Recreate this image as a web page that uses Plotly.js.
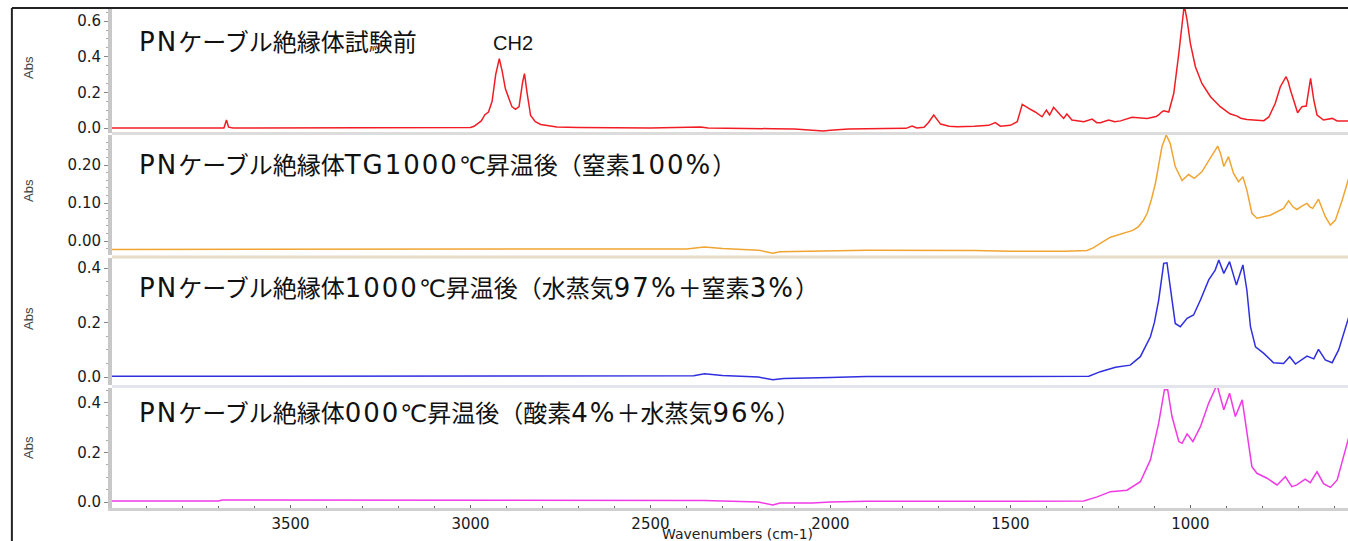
<!DOCTYPE html>
<html>
<head>
<meta charset="utf-8">
<script src="https://cdn.plot.ly/plotly-3.0.1.min.js"></script>
<style>html,body{margin:0;padding:0;background:#fff;}#chart{width:1348px;height:541px;}</style>
</head>
<body>
<div id="chart"></div>
<script>
// Panel labels
const panelLabels = [
  "PNケーブル絶縁体試験前",
  "PNケーブル絶縁体TG1000℃昇温後（窒素100%）",
  "PNケーブル絶縁体1000℃昇温後（水蒸気97%＋窒素3%）",
  "PNケーブル絶縁体000℃昇温後（酸素4%＋水蒸気96%）"
];
const peakLabel = "CH2";
const yTitle = "Abs";
const xTitle = "Wavenumbers (cm-1)";
const xTickVals = [3500, 3000, 2500, 2000, 1500, 1000];

// Series 1: before test (red)
const wnRed = [4000,3850,3810,3760,3685,3678,3672,3660,3400,3100,3000,2990,2970,2960,2950,2940,2930,2920,2912,2903,2895,2885,2875,2865,2855,2850,2843,2833,2820,2805,2760,2700,2500,2361,2340,2250,2160,2100,2040,2020,2000,1950,1850,1790,1773,1760,1740,1728,1713,1700,1694,1670,1648,1600,1560,1542,1528,1500,1481,1467,1458,1449,1431,1412,1400,1391,1380,1370,1361,1352,1343,1329,1296,1273,1260,1250,1227,1210,1194,1162,1140,1120,1095,1088,1080,1074,1060,1046,1032,1023,1017,1009,1000,986,968,944,917,890,880,870,860,843,796,782,764,750,734,728,722,713,702,690,678,666,657,648,630,606,592,560];
const absRed = [0.0,0.0,-0.004,-0.004,0.0,0.045,0.005,0.0,0.0,0.0,0.003,0.01,0.04,0.075,0.09,0.15,0.3,0.39,0.32,0.22,0.17,0.12,0.105,0.12,0.26,0.305,0.2,0.07,0.035,0.02,0.006,0.003,0.0,0.006,0.0,-0.004,-0.004,-0.006,-0.012,-0.017,-0.012,-0.006,-0.003,-0.002,0.011,0.0,0.004,0.03,0.073,0.04,0.022,0.01,0.007,0.01,0.015,0.03,0.01,0.015,0.035,0.133,0.12,0.11,0.09,0.063,0.1,0.073,0.116,0.09,0.073,0.054,0.079,0.045,0.035,0.05,0.03,0.03,0.045,0.035,0.04,0.06,0.055,0.054,0.065,0.073,0.09,0.097,0.09,0.195,0.42,0.59,0.69,0.606,0.475,0.344,0.25,0.176,0.12,0.08,0.073,0.067,0.055,0.048,0.041,0.062,0.139,0.232,0.288,0.26,0.213,0.157,0.086,0.12,0.123,0.279,0.157,0.073,0.045,0.054,0.04,0.04];

// Series 2: TG 1000C, N2 100% (orange)
const wnOrange = [4000,3800,3700,3400,3000,2600,2400,2350,2300,2200,2160,2140,2050,1900,1600,1500,1350,1287,1270,1259,1240,1222,1200,1176,1160,1144,1130,1120,1108,1097,1088,1079,1067,1056,1042,1023,1005,989,968,944,924,916,907,894,880,866,854,843,829,815,778,741,727,715,704,690,676,668,660,644,635,625,611,597,578,560];
const absOrange = [-0.022,-0.022,-0.021,-0.021,-0.022,-0.022,-0.021,-0.016,-0.02,-0.024,-0.032,-0.028,-0.026,-0.024,-0.025,-0.027,-0.027,-0.025,-0.018,-0.011,0.0,0.01,0.016,0.022,0.028,0.038,0.055,0.073,0.11,0.152,0.2,0.248,0.279,0.257,0.196,0.159,0.175,0.165,0.182,0.218,0.25,0.23,0.196,0.222,0.178,0.156,0.169,0.134,0.073,0.06,0.068,0.086,0.106,0.09,0.083,0.092,0.099,0.09,0.086,0.11,0.09,0.064,0.042,0.055,0.108,0.165];

// Series 3: 1000C, steam 97% + N2 3% (blue)
const wnBlue = [4000,3000,2500,2380,2350,2300,2200,2160,2130,2050,2000,1900,1600,1282,1250,1208,1167,1139,1111,1100,1088,1074,1065,1056,1042,1028,1009,991,972,949,931,921,907,891,872,854,843,833,819,796,769,741,724,708,676,657,644,625,606,588,560];
const absBlue = [0.003,0.003,0.003,0.005,0.012,0.006,0.0,-0.01,-0.005,-0.004,-0.001,0.002,0.003,0.003,0.02,0.036,0.044,0.075,0.148,0.2,0.283,0.418,0.42,0.332,0.197,0.185,0.216,0.228,0.283,0.357,0.393,0.43,0.381,0.424,0.338,0.412,0.32,0.185,0.111,0.087,0.053,0.05,0.075,0.048,0.077,0.067,0.102,0.063,0.053,0.1,0.22];

// Series 4: O2 4% + steam 96% (magenta)
const wnMagenta = [4000,3700,3690,3500,3000,2600,2350,2200,2160,2140,2050,2000,1900,1296,1259,1222,1176,1139,1111,1088,1072,1063,1051,1032,1023,1009,993,972,949,926,907,891,875,856,843,829,815,787,759,736,718,704,681,667,648,630,611,592,560];
const absMagenta = [0.004,0.004,0.008,0.008,0.006,0.005,0.006,0.0,-0.012,-0.004,-0.004,0.0,0.003,0.004,0.021,0.042,0.048,0.082,0.17,0.318,0.453,0.453,0.345,0.244,0.237,0.275,0.244,0.304,0.399,0.473,0.372,0.439,0.345,0.412,0.291,0.143,0.116,0.096,0.069,0.102,0.062,0.069,0.092,0.078,0.122,0.074,0.059,0.089,0.26];

const colors = ['#f21d24', '#f0a532', '#2f2fe0', '#f03ae6'];
const series = [[wnRed, absRed], [wnOrange, absOrange], [wnBlue, absBlue], [wnMagenta, absMagenta]];
const yaxNames = ['y', 'y2', 'y3', 'y4'];

const traces = series.map((s, i) => ({
  x: s[0], y: s[1], type: 'scatter', mode: 'lines',
  line: {color: colors[i], width: 1.5},
  xaxis: 'x', yaxis: yaxNames[i], hoverinfo: 'skip'
}));

const tickFont = {family: 'DejaVu Sans', size: 15, color: '#1a1a1a'};
function yax(domain, range, dtick, fmt) {
  return {
    domain: domain, range: range, dtick: dtick, tick0: 0, tickformat: fmt,
    showgrid: false, zeroline: false, showline: true, linecolor: '#c8c8c8', linewidth: 4,
    ticks: 'outside', ticklen: 4, tickcolor: '#888', tickfont: tickFont,
    minor: {ticks: 'outside', ticklen: 2, tickcolor: '#aaa', nticks: 8},
    fixedrange: true
  };
}

const layout = {
  width: 1348, height: 541,
  margin: {l: 112, r: 0, t: 8, b: 33},
  paper_bgcolor: '#fff', plot_bgcolor: '#fff',
  showlegend: false,
  xaxis: {
    range: [3996, 562], anchor: 'y4', tickvals: xTickVals, ticktext: xTickVals.map(String),
    showgrid: false, zeroline: false, showline: true, linecolor: '#d0d0d0', linewidth: 3,
    ticks: 'inside', ticklen: 3, tickcolor: '#666', tickfont: tickFont,
    minor: {ticks: 'inside', ticklen: 2, tickcolor: '#666', dtick: 100, tick0: 0},
    fixedrange: true
  },
  yaxis: yax([0.75, 1.0], [-0.028, 0.674], 0.2, '.1f'),
  yaxis2: yax([0.506, 0.746], [-0.0368, 0.279], 0.1, '.2f'),
  yaxis3: yax([0.246, 0.5], [-0.029, 0.4375], 0.2, '.1f'),
  yaxis4: yax([0.0, 0.24], [-0.024, 0.46], 0.2, '.1f'),
  shapes: [
    {type: 'line', xref: 'paper', yref: 'paper', x0: -0.081, x1: 1.0, y0: 1.0, y1: 1.0, line: {color: '#222', width: 2}},
    {type: 'line', xref: 'paper', yref: 'paper', x0: -0.081, x1: -0.081, y0: 1.0, y1: -0.07, line: {color: '#222', width: 2}},
    {type: 'line', xref: 'paper', yref: 'paper', x0: 0, x1: 1, y0: 0.749, y1: 0.749, line: {color: '#dcdcdc', width: 3}},
    {type: 'line', xref: 'paper', yref: 'paper', x0: 0, x1: 1, y0: 0.502, y1: 0.502, line: {color: '#e6dcc8', width: 3}},
    {type: 'line', xref: 'paper', yref: 'paper', x0: 0, x1: 1, y0: 0.243, y1: 0.243, line: {color: '#e4e4ec', width: 3}}
  ],
  annotations: []
};

// widen the Latin runs (digits, letters, %) to match the wide Latin glyphs of the original font
function styleLabel(t) {
  return t.replace(/[A-Za-z0-9%]+/g, m => '<span style="font-size:26px;letter-spacing:2px">' + m + '</span>');
}

const labelY = [0.932, 0.686, 0.44, 0.19];
panelLabels.forEach((t, i) => {
  layout.annotations.push({
    text: styleLabel(t), xref: 'paper', yref: 'paper', x: 0.0202, y: labelY[i],
    xanchor: 'left', yanchor: 'middle', showarrow: false,
    font: {family: 'DejaVu Sans, Noto Sans CJK JP', size: 24, color: '#111'}
  });
});
const absY = [0.882, 0.636, 0.38, 0.122];
absY.forEach(v => {
  layout.annotations.push({
    text: yTitle, xref: 'paper', yref: 'paper', x: -0.068, y: v,
    xanchor: 'center', yanchor: 'middle', textangle: -90, showarrow: false,
    font: {family: 'Liberation Sans', size: 13, color: '#444'}
  });
});
layout.annotations.push({
  text: peakLabel, xref: 'x', yref: 'y', x: 2883, y: 0.475,
  xanchor: 'center', yanchor: 'middle', showarrow: false,
  font: {family: 'Liberation Sans', size: 20, color: '#111'}
});
layout.annotations.push({
  text: xTitle, xref: 'paper', yref: 'paper', x: 0.506, y: -0.052,
  xanchor: 'center', yanchor: 'middle', showarrow: false,
  font: {family: 'DejaVu Sans', size: 14, color: '#222'}
});

Plotly.newPlot('chart', traces, layout, {staticPlot: true, displayModeBar: false});
</script>
</body>
</html>
